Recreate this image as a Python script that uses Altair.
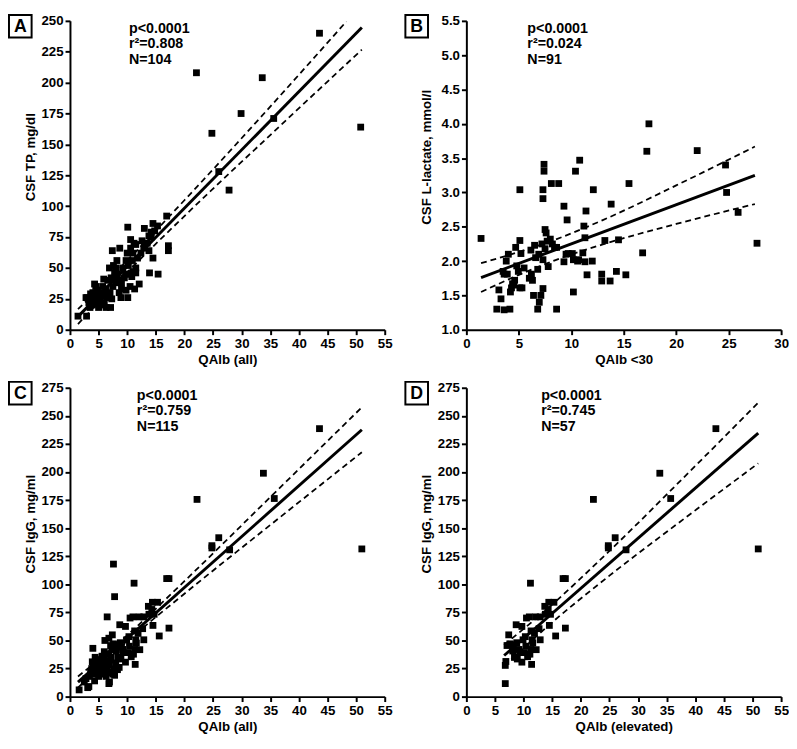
import altair as alt
import pandas as pd

FONT = "Liberation Sans"

# ---------------- Panel A: CSF TP vs QAlb (all) ----------------
A_x = [43.6, 22.1, 33.6, 29.9, 35.6, 24.8, 50.8, 26.0, 27.8, 16.9,
       17.2, 17.2, 15.4, 13.9, 14.5, 14.5, 15.3, 14.2, 13.0, 10.1, 10.6, 11.2, 11.5, 10.6,
       12.1, 11.3, 10.8, 13.0, 13.8, 9.8, 8.7, 7.4, 8.2, 7.6, 6.9, 8.9, 10.1, 7.1, 5.0,
       2.9, 1.4, 2.8, 4.3, 3.5,
       11.0, 12.9, 13.8, 14.2, 11.5, 10.4, 11.0, 9.5, 8.5, 9.0, 9.8, 10.5, 11.5, 8.0,
       7.8, 7.2, 8.1, 6.6, 7.0, 6.3, 6.5, 5.8, 6.0, 5.5, 5.2, 4.8, 4.5, 4.2, 4.0, 3.8,
       3.3, 3.0, 4.5, 5.3, 5.7, 6.3, 6.8, 7.5, 8.3, 9.2, 9.7, 10.2, 10.9, 12.4, 13.5,
       9.0, 8.6, 7.3, 6.1, 5.0, 4.7, 3.6, 5.9, 7.9, 10.0, 11.8, 12.6, 14.8, 4.1, 3.9]
A_y = [240, 208, 204, 175, 171, 159, 164, 128, 113, 92,
       68, 64, 45, 46, 58, 86, 84, 79, 82, 83, 73, 70, 69, 66,
       37, 33, 43, 67, 64, 56, 66, 64, 56, 52, 50, 26, 26, 18, 18,
       11, 11, 26, 37, 18,
       62, 66, 76, 75, 46, 45, 47, 42, 40, 33, 32, 35, 50, 50,
       46, 42, 38, 40, 30, 33, 26, 28, 22, 30, 25, 32, 27, 22, 30, 24,
       22, 26, 35, 20, 35, 18, 28, 35, 45, 50, 45, 52, 56, 62, 70,
       38, 30, 25, 27, 24, 21, 29, 41, 43, 62, 58, 72, 80, 25, 20]
A_fit_x = [1.4, 51.0]
A_fit_y = [10.6, 244.7]
A_up_x = [1.4, 10, 20, 35, 48.3]
A_up_y = [16.6, 56.0, 104.8, 180.6, 249.5]
A_lo_x = [1.4, 10, 20, 35, 51]
A_lo_y = [4.6, 46.4, 92.0, 157.6, 226.7]
A_xticks = list(range(0, 56, 5))
A_yticks = list(range(0, 251, 25))

# ---------------- Panel B: CSF L-lactate vs QAlb <30 ----------------
B_x = [1.4, 17.4, 17.2, 22.0, 24.7, 24.8, 25.9, 27.7, 16.8, 15.5, 13.8, 14.5, 13.2,
       14.3, 15.2, 12.9, 12.9, 13.7, 12.1, 10.8, 10.4, 11.4, 11.2, 11.3, 11.1, 11.3,
       11.5, 10.7, 10.2, 10.1, 9.7, 10.2, 9.3, 9.6, 9.3, 8.8, 8.1, 7.4, 7.4, 7.3, 7.3,
       7.5, 7.6, 8.0, 7.7, 8.4, 8.6, 7.5, 7.8, 7.3, 6.9, 6.5, 6.15, 6.8, 6.2, 6.3,
       7.3, 6.4, 7.1, 6.95, 6.8, 8.6, 5.1, 5.1, 4.7, 5.2, 4.8, 4.95, 5.1, 5.3, 4.0,
       3.8, 3.9, 3.6, 4.4, 4.3, 4.2, 3.3, 3.1, 2.9, 3.6, 4.15,
       4.5, 5.5, 6.6, 7.2, 8.2, 9.5, 3.5, 6.0, 10.6, 12.0, 4.6]
B_y = [2.33, 4.0, 3.6, 3.61, 3.4, 3.0, 2.71, 2.26, 2.12, 3.13, 2.83, 2.31, 2.30,
       1.85, 1.80, 1.81, 1.71, 1.71, 3.04, 3.47, 3.31, 2.73, 2.51, 2.34, 2.12, 1.99,
       1.80, 2.02, 2.02, 2.11, 2.11, 1.55, 2.80, 2.60, 1.99, 3.13, 3.13, 3.41, 3.31, 3.04, 2.91,
       2.46, 2.41, 2.32, 2.29, 2.20, 2.20, 2.18, 1.92, 2.02, 2.10, 2.23, 2.16, 1.88, 1.81, 1.72,
       1.60, 1.50, 1.50, 1.40, 1.30, 1.30, 3.04, 2.30, 2.20, 2.11, 1.93, 1.85, 1.61, 1.61, 2.10,
       2.00, 1.81, 1.81, 1.67, 1.61, 1.55, 1.45, 1.58, 1.30, 1.29, 1.30,
       1.65, 1.90, 2.05, 2.25, 2.25, 2.10, 1.85, 1.75, 2.00, 2.00, 1.72]
B_fit_x = [1.4, 27.5]
B_fit_y = [1.76, 3.25]
B_up_x = [1.4, 5, 8.5, 13, 20, 27.5]
B_up_y = [1.97, 2.133, 2.315, 2.597, 3.103, 3.669]
B_lo_x = [1.4, 5, 8.5, 13, 20, 27.5]
B_lo_y = [1.55, 1.799, 2.015, 2.243, 2.541, 2.831]
B_xticks = list(range(0, 31, 5))
B_yticks = [1.0, 1.5, 2.0, 2.5, 3.0, 3.5, 4.0, 4.5, 5.0, 5.5]

# ---------------- Panel D: CSF IgG vs QAlb (elevated) ----------------
D_x = [43.6, 33.8, 35.7, 22.2, 24.8, 24.8, 26.0, 27.9, 51.0, 16.9, 17.3, 17.3, 15.6,
       15.3, 14.4, 13.7, 14.5, 12.9, 12.1, 11.0, 10.5, 11.2, 7.4, 8.7, 9.7, 12.9, 12.2,
       11.4, 11.6, 6.8, 6.9, 6.8, 7.1, 8.1, 8.9, 9.7, 10.1, 10.7, 11.1, 9.9, 10.3, 9.2,
       10.4, 11.5, 8.1, 9.3, 8.4, 11.3, 11.9, 11.3, 12.7, 13.8, 14.7, 14.3, 7.6, 8.8, 10.8]
D_y = [238.6, 198.9, 176.4, 175.6, 134.4, 132.4, 141.5, 130.7, 131.5, 105.1, 105.1, 61, 54,
       84, 84, 80.4, 63.4, 71, 71, 71, 70, 101, 55, 64, 62.5, 50.6, 41.8,
       28.7, 47.7, 27.8, 31.3, 11.6, 45.5, 46.3, 33.5, 30.7, 39.2, 35.5, 37.8, 50.6, 53.4, 42,
       44.9, 50.6, 40.6, 39.2, 34.9, 42, 56.3, 58.5, 60.5, 73.3, 73.3, 77.6, 47, 48, 38]
D_fit_x = [6.6, 51.0]
D_fit_y = [36.6, 234.7]
D_up_x = [6.6, 14, 25, 38, 51]
D_up_y = [46.1, 77.5, 129.7, 195.2, 261.7]
D_lo_x = [6.6, 14, 25, 38, 51]
D_lo_y = [27.1, 61.7, 107.7, 158.2, 207.7]

# ---------------- Panel C: CSF IgG vs QAlb (all) = elevated + others ----------------
C_extra_x = [1.6, 3.3, 3.1, 2.8, 3.4, 3.6, 3.8, 4.0, 4.1, 4.2, 4.4, 4.5, 4.6, 4.8, 4.9,
             5.0, 5.1, 5.2, 5.3, 5.4, 5.5, 5.6, 5.7, 5.8, 5.9, 6.0, 6.1, 6.2, 6.3, 6.4,
             6.5, 6.4, 3.9, 4.3, 5.0, 5.6, 6.0, 2.5,
             6.9, 7.6, 7.8, 7.0, 7.2, 7.5, 7.8, 8.0, 6.8, 7.3, 7.7, 8.3, 8.6, 9.0,
             5.2, 4.7, 6.6, 7.1]
C_extra_y = [6, 9, 8, 16, 18, 22, 25, 43, 30, 20, 35, 27, 24, 32, 21,
             29, 26, 33, 22, 30, 25, 36, 28, 20, 32, 24, 50, 30, 18, 27,
             71, 38, 31, 14, 18, 31, 40, 13,
             13, 118, 89, 22, 35, 20, 19, 30, 52, 42, 25, 24, 26, 44,
             28, 30, 21, 33]
C_x = D_x + C_extra_x
C_y = D_y + C_extra_y
C_fit_x = [1.4, 51.0]
C_fit_y = [12.9, 237.6]
C_up_x = [1.4, 10, 20, 35, 51]
C_up_y = [17.9, 54.6, 102.8, 177.6, 257.6]
C_lo_x = [1.4, 10, 20, 35, 51]
C_lo_y = [7.9, 49.2, 91.6, 152.8, 217.6]
CD_yticks = list(range(0, 276, 25))

W = 320
H = 314


def panel(px, py, fx, fy, ux, uy, lx, ly, xdom, ydom, xticks, yticks, yfmt,
          xtitle, ytitle, letter, stats, stats_x):
    xs = alt.Scale(domain=xdom, nice=False, zero=False)
    ys = alt.Scale(domain=ydom, nice=False, zero=False)
    common = dict(domainColor="black", domainWidth=2, tickColor="black", tickWidth=2,
                  tickSize=5, labelFont=FONT, labelFontSize=13.5, labelFontWeight="bold",
                  labelColor="black", titleFont=FONT, titleFontSize=13.5,
                  titleFontWeight="bold", titleColor="black", grid=False,
                  labelFlush=False, labelOverlap=False, labelPadding=2)
    xaxis = alt.Axis(values=xticks, title=xtitle, format="d", titlePadding=3, **common)
    yaxis = alt.Axis(values=yticks, title=ytitle, format=yfmt, titleX=-40,
                     titleY=H * 0.44, titleBaseline="middle", titleAngle=270, **common)
    X = alt.X("x:Q", scale=xs, axis=xaxis)
    Y = alt.Y("y:Q", scale=ys, axis=yaxis)

    pts = alt.Chart(pd.DataFrame({"x": px, "y": py})).mark_square(
        size=48, color="black", opacity=1).encode(x=X, y=Y)
    fit = alt.Chart(pd.DataFrame({"x": fx, "y": fy})).mark_line(
        color="black", strokeWidth=3).encode(x=X, y=Y)
    up = alt.Chart(pd.DataFrame({"x": ux, "y": uy})).mark_line(
        color="black", strokeWidth=1.8, strokeDash=[6, 4], interpolate="monotone").encode(x=X, y=Y)
    lo = alt.Chart(pd.DataFrame({"x": lx, "y": ly})).mark_line(
        color="black", strokeWidth=1.8, strokeDash=[6, 4], interpolate="monotone").encode(x=X, y=Y)
    txt = alt.Chart(pd.DataFrame({"t": [stats]})).mark_text(
        align="left", baseline="top", lineBreak="\n", lineHeight=16, font=FONT,
        fontSize=14.5, fontWeight="bold", color="black").encode(
        x=alt.value(stats_x), y=alt.value(1), text="t:N")
    box = alt.Chart(pd.DataFrame({"l": [letter]})).mark_rect(
        fill="white", stroke="black", strokeWidth=2).encode(
        x=alt.value(-62), x2=alt.value(-39), y=alt.value(-6), y2=alt.value(17))
    let = alt.Chart(pd.DataFrame({"l": [letter]})).mark_text(
        font=FONT, fontSize=18, fontWeight="bold", color="black",
        align="center", baseline="middle").encode(
        x=alt.value(-50.5), y=alt.value(6), text="l:N")
    return alt.layer(fit, up, lo, pts, txt, box, let).properties(width=W, height=H)


pA = panel(A_x, A_y, A_fit_x, A_fit_y, A_up_x, A_up_y, A_lo_x, A_lo_y, [0, 55], [0, 250],
           A_xticks, A_yticks, "d", "QAlb (all)", "CSF TP, mg/dl", "A",
           "p<0.0001\nr²=0.808\nN=104", 60)
pB = panel(B_x, B_y, B_fit_x, B_fit_y, B_up_x, B_up_y, B_lo_x, B_lo_y, [0, 30], [1.0, 5.5],
           B_xticks, B_yticks, ".1f", "QAlb <30", "CSF L-lactate, mmol/l", "B",
           "p<0.0001\nr²=0.024\nN=91", 62)
pC = panel(C_x, C_y, C_fit_x, C_fit_y, C_up_x, C_up_y, C_lo_x, C_lo_y, [0, 55], [0, 275],
           A_xticks, CD_yticks, "d", "QAlb (all)", "CSF IgG, mg/ml", "C",
           "p<0.0001\nr²=0.759\nN=115", 68)
pD = panel(D_x, D_y, D_fit_x, D_fit_y, D_up_x, D_up_y, D_lo_x, D_lo_y, [0, 55], [0, 275],
           A_xticks, CD_yticks, "d", "QAlb (elevated)", "CSF IgG, mg/ml", "D",
           "p<0.0001\nr²=0.745\nN=57", 76)

chart = alt.concat(pA, pB, pC, pD, columns=2, spacing={"column": 12, "row": 15}).properties(
    padding=0, background="white"
).configure_view(stroke=None)

chart.save("out.html", embed_options={"renderer": "svg", "actions": False})
